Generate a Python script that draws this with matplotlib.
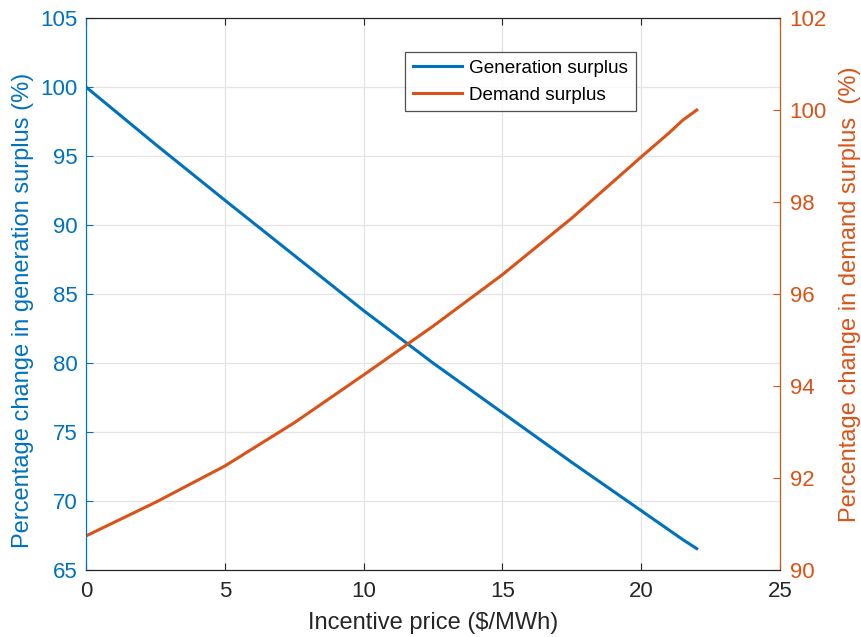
import numpy as np
import matplotlib.pyplot as plt

plt.rcParams['font.family'] = ['Liberation Sans', 'DejaVu Sans']

# data
price = [0, 2.5, 5, 7.5, 10, 12.5, 15, 17.5, 20, 21, 21.5, 22]
gen_surplus = [100, 95.85, 91.8, 87.8, 83.8, 80.0, 76.4, 72.8, 69.3, 67.9, 67.2, 66.55]
dem_surplus = [90.74, 91.47, 92.26, 93.2, 94.24, 95.3, 96.42, 97.65, 98.98, 99.5, 99.78, 100]

BLUE = '#0072BD'
ORANGE = '#D95319'
DARK = '#262626'

fig = plt.figure(figsize=(8.61, 6.37), dpi=100)
ax = fig.add_axes([0.0999, 0.1052, 0.806, 0.8665])
ax2 = ax.twinx()

l1, = ax.plot(price, gen_surplus, color=BLUE, lw=2.2, label='Generation surplus')
l2, = ax2.plot(price, dem_surplus, color=ORANGE, lw=2.2, label='Demand surplus')

ax.set_xlim(0, 25)
ax.set_ylim(65, 105)
ax2.set_ylim(90, 102)
ax.set_xticks(np.arange(0, 26, 5))
ax.set_yticks(np.arange(65, 106, 5))
ax2.set_yticks(np.arange(90, 103, 2))

ax.grid(True, color='#e3e3e3', lw=0.9)
ax.set_axisbelow(True)

ax.tick_params(axis='x', direction='in', colors=DARK, labelsize=16, length=5, top=True, pad=8)
ax.tick_params(axis='y', direction='in', colors=BLUE, labelsize=16, length=5, pad=6)
ax2.tick_params(axis='y', direction='in', colors=ORANGE, labelsize=16, length=5, pad=7)

ax.set_xlabel('Incentive price ($/MWh)', fontsize=17, color=DARK, labelpad=7)
ax.set_ylabel('Percentage change in generation surplus (%)', fontsize=17, color=BLUE)
ax2.set_ylabel('Percentage change in demand surplus  (%)', fontsize=17, color=ORANGE, labelpad=9)
ax.yaxis.set_label_coords(-0.075, 0.47)

for a in (ax, ax2):
    a.spines['top'].set_color(DARK)
    a.spines['bottom'].set_color(DARK)
    a.spines['left'].set_color(BLUE)
    a.spines['right'].set_color(ORANGE)

leg = ax2.legend(handles=[l1, l2], loc='upper left', bbox_to_anchor=(0.4597, 0.938),
                 borderaxespad=0, fontsize=13.6, frameon=True, fancybox=False,
                 edgecolor=DARK, handlelength=2.6, handletextpad=0.4,
                 borderpad=0.4, labelspacing=0.5)
leg.get_frame().set_linewidth(0.9)

fig.savefig('out.png', dpi=100)
